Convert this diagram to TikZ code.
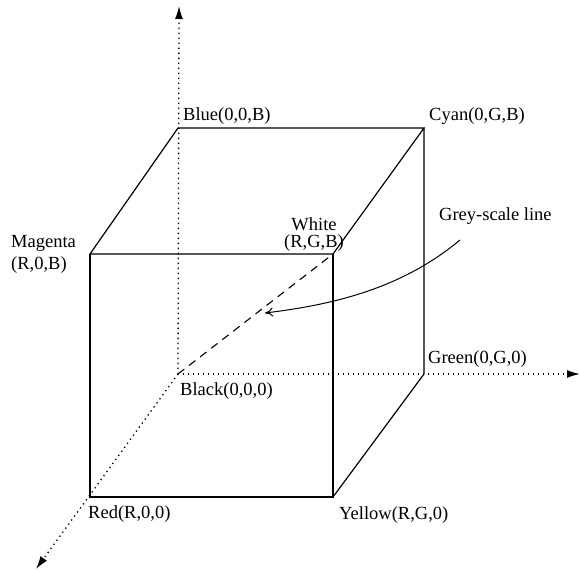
\documentclass[tikz,border=0pt]{standalone}
\usepackage{fontspec}
\setmainfont{Liberation Serif}
\usetikzlibrary{arrows.meta}
\begin{document}
\begin{tikzpicture}[x=1pt,y=-1pt,
  edge/.style={line width=1.2pt},
  dots/.style={line width=1.3pt,dash pattern=on 1.3pt off 3.7pt},
  axis/.style={dots,-{Latex[length=13pt,width=8pt]}},
  lbl/.style={inner sep=0pt,font=\fontsize{18.5}{17}\selectfont},
  dashline/.style={line width=1.1pt,dash pattern=on 8pt off 6pt}]
\useasboundingbox (0,0) rectangle (580,572);
% corners
\coordinate (K) at (178,374);
\coordinate (B) at (178,128);
\coordinate (C) at (424,128);
\coordinate (M) at (90,254);
\coordinate (W) at (333,254);
\coordinate (R) at (90,497);
\coordinate (Y) at (333,497);
\coordinate (G) at (424,374);
\coordinate (top) at (179,6);
\coordinate (right) at (580,374);
\coordinate (bl) at (36,569);
% axes
\draw[axis] (K) -- (top);
\draw[axis] (K) -- (right);
\draw[axis] (K) -- (bl);
% grey-scale dashed
\draw[dashline] (K) -- (W);
% cube edges
\draw[edge] (B) -- (C) -- (W) -- (M) -- cycle;
\draw[edge] (M) -- (R) -- (Y) -- (W);
\draw[edge] (C) -- (G) -- (Y);
% labels
\node[lbl,anchor=west] (lB) at (183,116) {Blue(0,0,B)};
\node[lbl,anchor=west] (lC) at (429,116) {Cyan(0,G,B)};
\node[lbl,anchor=west,align=left,font=\fontsize{18.5}{22}\selectfont] (lM) at (11,254) {Magenta\\(R,0,B)};
\node[lbl,align=center] (lW) at (314,235) {White\\(R,G,B)};
\node[lbl,anchor=west] (lK) at (180,391) {Black(0,0,0)};
\node[lbl,anchor=west] (lG) at (428,359) {Green(0,G,0)};
\node[lbl,anchor=west] (lR) at (88,514) {Red(R,0,0)};
\node[lbl,anchor=west] (lY) at (339,515) {Yellow(R,G,0)};
\node[lbl,anchor=west] (lGS) at (439,216) {Grey-scale line};
\coordinate (gsend) at (265,313);
\draw[line width=1pt,-{To[length=8pt,width=9pt]}] (460,240) .. controls (400,290) and (330,305) .. (gsend);
\end{tikzpicture}
\end{document}
